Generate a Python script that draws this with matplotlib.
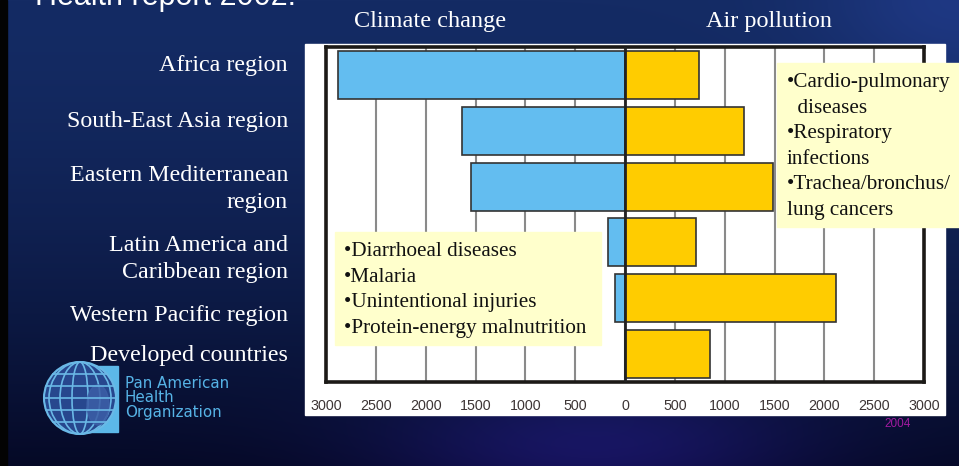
import numpy as np
import matplotlib.pyplot as plt
from matplotlib.patches import Rectangle, Circle, Ellipse

# deaths attributable (thousands of DALYs), by WHO region
regions = ['Africa region', 'South-East Asia region', 'Eastern Mediterranean\nregion',
           'Latin America and\nCaribbean region', 'Western Pacific region', 'Developed countries']
climate = [2880, 1640, 1550, 175, 105, 0]
air = [740, 1195, 1480, 715, 2115, 850]
ticks = [-3000, -2500, -2000, -1500, -1000, -500, 0, 500, 1000, 1500, 2000, 2500, 3000]
climate_notes = ['•Diarrhoeal diseases', '•Malaria', '•Unintentional injuries',
                 '•Protein-energy malnutrition']
air_notes = ['•Cardio-pulmonary', '  diseases', '•Respiratory', 'infections',
             '•Trachea/bronchus/', 'lung cancers']

W, H = 959, 466
SERIF = 'Liberation Serif'
SANS = 'Liberation Sans'
BLUE = '#63bdf0'
GOLD = '#ffcc00'

fig = plt.figure(figsize=(W / 100, H / 100), dpi=100)

# slide background: navy gradient, darker towards the bottom
yy, xx = np.mgrid[0:1:H * 1j, 0:1:W * 1j]
top = np.array([0x14, 0x2b, 0x64]) / 255
bot = np.array([0x05, 0x09, 0x26]) / 255
t = (yy ** 1.6)[..., None]
img = top * (1 - t) + bot * t
glow = np.exp(-((xx - 0.62) ** 2 / 0.05 + (yy - 0.97) ** 2 / 0.02))[..., None]
img += glow * np.array([0.07, 0.04, 0.22])
corner = np.exp(-((xx - 1.0) ** 2 / 0.02 + (yy - 0.0) ** 2 / 0.04))[..., None]
img += corner * np.array([0.04, 0.05, 0.12])
img = np.clip(img, 0, 1)

bg = fig.add_axes([0, 0, 1, 1], zorder=0)
bg.imshow(img, extent=(0, W, H, 0), aspect='auto')
bg.set_xlim(0, W)
bg.set_ylim(H, 0)
bg.axis('off')
bg.add_patch(Rectangle((0, 0), 7, H, color='#030303'))
bg.add_patch(Rectangle((305, 44), 640, 371, color='white'))

# slide heading, running off the top edge
bg.text(35, 5, 'Health report 2002.', color='white', fontsize=22,
        family=SANS, va='baseline')
bg.text(430, 21, 'Climate change', color='white', fontsize=17.5, family=SERIF,
        ha='center', va='center')
bg.text(769, 21, 'Air pollution', color='white', fontsize=17.5, family=SERIF,
        ha='center', va='center')

label_y = [66, 121, 189, 259, 315, 356]
for name, y in zip(regions, label_y):
    bg.text(288, y, name, color='white', fontsize=17.3, family=SERIF,
            ha='right', va='center', multialignment='right', linespacing=1.4)

# organisation logo
bg.add_patch(Rectangle((86, 366), 32, 66, color='#5cb8e8'))
bg.add_patch(Circle((80, 398), 36, facecolor='#27478e', edgecolor='#6ab8e6', lw=1.5))
for rx in [8, 20, 31]:
    bg.add_patch(Ellipse((80, 398), 2 * rx, 72, fill=False, edgecolor='#6ab8e6', lw=1.2))
for dy in [-24, -12, 0, 12, 24]:
    half = np.sqrt(36 ** 2 - dy ** 2)
    bg.plot([80 - half, 80 + half], [398 + dy, 398 + dy], color='#6ab8e6', lw=1.2)
bg.add_patch(Ellipse((98, 405), 22, 40, color='#3c5ea6', alpha=0.85))
for i, line in enumerate(['Pan American', 'Health', 'Organization']):
    bg.text(125, 383 + 14.5 * i, line, color='#56b3e6', fontsize=10.9,
            family='DejaVu Sans', va='center')
bg.text(898, 424, '2004', color='#a01aa0', fontsize=8.5, family=SANS,
        ha='center', va='center')

# main chart
ax = fig.add_axes([326 / W, 1 - 382 / H, 598 / W, 335 / H], zorder=2)
ax.set_facecolor('white')
pos = np.arange(len(regions))
ax.barh(pos, [-v for v in climate], height=0.86, color=BLUE, edgecolor='#333333',
        lw=1.2, zorder=3)
ax.barh(pos, air, height=0.86, color=GOLD, edgecolor='#333333', lw=1.2, zorder=3)
for tk in ticks[1:-1]:
    ax.axvline(tk, color='#8a8a8a', lw=1.5, zorder=1)
ax.axvline(0, color='#222222', lw=2, zorder=4)
ax.set_xlim(-3000, 3000)
ax.set_ylim(5.5, -0.5)
ax.set_yticks([])
ax.set_xticks(ticks)
ax.set_xticklabels([str(abs(tk)) for tk in ticks], family=SANS)
ax.tick_params(axis='x', length=0, pad=12, labelsize=10.3, labelcolor='#3d3535')
for sp in ax.spines.values():
    sp.set_linewidth(2.6)
    sp.set_color('#1c1a17')

# note boxes drawn over the chart
ov = fig.add_axes([0, 0, 1, 1], zorder=3)
ov.set_xlim(0, W)
ov.set_ylim(H, 0)
ov.axis('off')
ov.patch.set_alpha(0)
ov.add_patch(Rectangle((335, 232), 266, 113, color='#ffffcc'))
for i, line in enumerate(climate_notes):
    ov.text(344, 252 + 25.4 * i, line, color='#111111', fontsize=15.2, family=SERIF,
            va='center')
ov.add_patch(Rectangle((777, 63), 182, 164, color='#ffffcc'))
for i, line in enumerate(air_notes):
    ov.text(787, 83 + 25.4 * i, line, color='#111111', fontsize=15.2, family=SERIF,
            va='center')

fig.savefig('out.png', dpi=100)
